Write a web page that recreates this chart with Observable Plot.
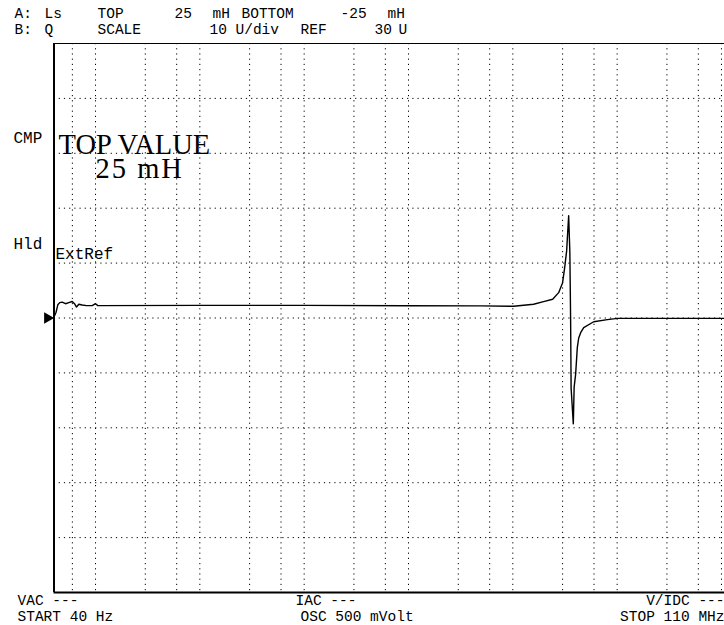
<!DOCTYPE html>
<html><head><meta charset="utf-8">
<script src="https://cdn.jsdelivr.net/npm/d3@7"></script>
<script src="https://cdn.jsdelivr.net/npm/@observablehq/plot@0.6"></script>
<style>
html,body{margin:0;padding:0;background:#fff;}
svg text{white-space:pre;}
</style></head><body><div id="chart"></div>
<script>
const freqHz = [40, 41.8, 43.5, 45.4, 47.9, 51.6, 55.4, 59.8, 62.9, 65.7, 69.2, 74.5, 81.9, 92.9, 100, 105.2,
  1e3, 1e4, 1e5, 4.9e5, 1.02e6, 1.58e6, 1.97e6, 2.41e6, 2.75e6, 3.0e6, 3.14e6, 3.28e6, 3.35e6, 3.43e6,
  3.52e6, 3.58e6, 3.62e6, 3.80e6, 3.87e6, 4.0e6, 4.15e6, 4.28e6, 4.47e6, 4.78e6, 5.96e6, 8.06e6, 10.1e6, 110e6];
const lsMilliH = [0.1, 0.5, 1.2, 1.4, 1.45, 1.3, 1.4, 1.5, 1.3, 1.0, 1.25, 1.18, 1.13, 1.13, 1.3, 1.13,
  1.15, 1.15, 1.12, 1.1, 1.07, 1.25, 1.49, 1.71, 2.31, 3.22, 4.59, 6.11, 7.66, 9.31,
  6.0, -0.1, -6.4, -9.64, -6.3, -5.11, -2.7, -1.82, -1.34, -0.88, -0.34, -0.15, -0.03, -0.03];
// Grid lines
const gridFreqs = [60, 100, 300, 600, 1e3, 3e3, 6e3, 1e4, 3e4, 6e4, 1e5, 3e5, 6e5, 1e6, 3e6, 6e6, 1e7, 3e7, 6e7, 1e8];
const gridLs = [-20, -15, -10, -5, 0, 5, 10, 15, 20];
const sweepRange = [40, 110e6];
const lsRange = [-25, 25];
const refLs = [0];
// Text
const header1 = ["A:", "Ls", "TOP", "25", "mH", "BOTTOM", "-25", "mH"];
const header2 = ["B:", "Q", "SCALE", "10", "U/div", "REF", "30", "U"];
const sideLabels = ["CMP", "Hld"];
const topValueLabel = ["TOP VALUE", "25 mH"];
const extRefLabel = "ExtRef";
const footerLeft = ["VAC ---", "START 40 Hz"];
const footerMid = ["IAC ---", "OSC 500 mVolt"];
const footerRight = ["V/IDC ---", "STOP 110 MHz"];

const W = 724, H = 625, ML = 53.5, MT = 43, MB = 33;
const pix = "Liberation Mono, DejaVu Sans Mono, monospace";
const data = freqHz.map((f, i) => ({f, L: lsMilliH[i]}));

function label(text, px, py, o = {}) {
  return Plot.text([text], {
    frameAnchor: "top-left", dx: px - ML, dy: py - MT, text: d => d,
    textAnchor: o.anchor || "start", lineAnchor: "bottom",
    fontFamily: o.font || pix, fontSize: o.size || 16, fill: "#000"
  });
}
const h1x = [14, 44, 97, 174, 212, 241, 340, 387];
const h2x = [14, 44, 97, 209, 235, 300, 374, 398];
const hs = 14.5;

const marks = [
  Plot.ruleX(gridFreqs, {stroke: "#000", strokeWidth: 1, strokeDasharray: "1.2,4"}),
  Plot.ruleY(gridLs, {stroke: "#000", strokeWidth: 1, strokeDasharray: "1.2,4"}),
  Plot.ruleY([lsRange[1]], {stroke: "#000", strokeWidth: 1}),
  Plot.ruleY([lsRange[0]], {stroke: "#000", strokeWidth: 2}),
  Plot.ruleX([sweepRange[0]], {stroke: "#000", strokeWidth: 2}),
  Plot.line(data, {x: "f", y: "L", stroke: "#000", strokeWidth: 1.4, curve: "linear"}),
  Plot.dot(refLs, {x: () => sweepRange[0], y: d => d, symbol: "triangle", rotate: 90, r: 4.3, fill: "#000", stroke: "none", dx: -6.5}),
  ...header1.map((t, i) => label(t, h1x[i], 17, {size: hs})),
  ...header2.map((t, i) => label(t, h2x[i], 33, {size: hs})),
  label(sideLabels[0], 13, 142),
  label(sideLabels[1], 13, 248),
  label(topValueLabel[0], 58, 153, {font: "Liberation Serif, serif", size: 28.5}),
  label(topValueLabel[1], 95, 177, {font: "Liberation Serif, serif", size: 28.5}),
  label(extRefLabel, 55, 258),
  label(footerLeft[0], 17, 604, {size: hs}), label(footerLeft[1], 17, 620, {size: hs}),
  label(footerMid[0], 295, 604, {size: hs}), label(footerMid[1], 300, 620, {size: hs}),
  label(footerRight[0], 724, 604, {anchor: "end", size: hs}), label(footerRight[1], 724, 620, {anchor: "end", size: hs})
];

const chart = Plot.plot({
  width: W, height: H,
  marginLeft: ML, marginRight: 0, marginTop: MT, marginBottom: MB,
  x: {type: "log", domain: sweepRange, range: [ML, 725.3], axis: null},
  y: {domain: lsRange, axis: null},
  style: {background: "#fff", overflow: "hidden"},
  marks
});
d3.select(chart).selectAll("text")
  .filter(function() { return this.textContent === topValueLabel[1]; })
  .attr("letter-spacing", 2);
document.getElementById("chart").appendChild(chart);
</script></body></html>
